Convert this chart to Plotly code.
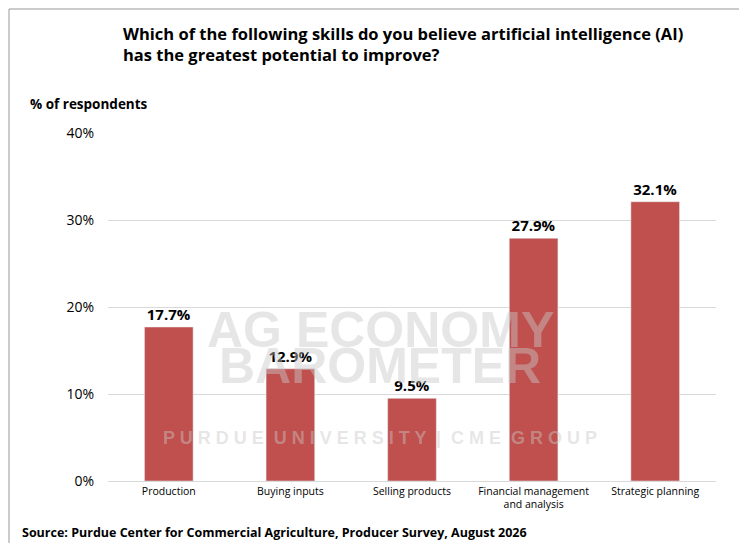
import plotly.graph_objects as go

categories = ["Production", "Buying inputs", "Selling products",
              "Financial management<br>and analysis", "Strategic planning"]
values = [17.7, 12.9, 9.5, 27.9, 32.1]
labels = ["<b>17.7%</b>", "<b>12.9%</b>", "<b>9.5%</b>", "<b>27.9%</b>", "<b>32.1%</b>"]
y_ticks = [0, 10, 20, 30, 40]
y_tick_text = ["0%", "10%", "20%", "30%", "40%"]

L, R, T, B = 100, 708, 125, 473


def px(x):
    return (x - L) / (R - L)


def py(y):
    return (B - y) / (B - T)


fig = go.Figure(go.Bar(
    x=categories, y=values, width=0.4,
    marker_color="#C0504D",
    text=labels, textposition="outside",
    textfont=dict(size=15, color="black", family="Open Sans"),
    cliponaxis=False,
))

# faint watermark
for txt, yy, sz in [("<b>AG ECONOMY</b>", 322, 50), ("<b>BAROMETER</b>", 388, 50),
                    ("<b>P U R D U E  U N I V E R S I T Y  |  C M E  G R O U P</b>", 442, 18)]:
    fig.add_annotation(text=txt, xref="paper", yref="paper", x=px(372), y=py(yy),
                       showarrow=False, font=dict(size=sz, color="rgba(200,200,200,0.45)",
                                                  family="Liberation Sans"))

fig.add_annotation(text="<b>Which of the following skills do you believe artificial intelligence (AI)<br>has the greatest potential to improve?</b>",
                   xref="paper", yref="paper", x=px(113), y=py(12), xanchor="left", yanchor="top",
                   align="left", showarrow=False, font=dict(size=16.5, color="black"))
fig.add_annotation(text="<b>% of respondents</b>", xref="paper", yref="paper",
                   x=px(20), y=py(85), xanchor="left", yanchor="top",
                   showarrow=False, font=dict(size=13.5, color="black"))
fig.add_annotation(text="<b>Source: Purdue Center for Commercial Agriculture, Producer Survey, August 2026</b>",
                   xref="paper", yref="paper", x=px(12), y=py(514), xanchor="left", yanchor="top",
                   showarrow=False, font=dict(size=12.5, color="black"))
fig.add_shape(type="rect", xref="paper", yref="paper", x0=px(1), y0=py(541), x1=px(745), y1=py(1),
              line=dict(color="#999999", width=1))

fig.update_layout(
    width=747, height=543,
    margin=dict(l=L, r=747 - R, t=T, b=543 - B),
    paper_bgcolor="white", plot_bgcolor="white",
    font=dict(family="Open Sans", color="black"),
    showlegend=False,
    yaxis=dict(range=[0, 40], tickvals=y_ticks, ticktext=y_tick_text,
               showgrid=True, gridcolor="#D9D9D9", zeroline=False,
               tickfont=dict(size=14, color="black"), ticks="outside",
               ticklen=10, tickcolor="white"),
    xaxis=dict(tickfont=dict(size=10.5, color="black"), showline=True,
               linecolor="#D9D9D9"),
)

fig.write_html("out.html")
